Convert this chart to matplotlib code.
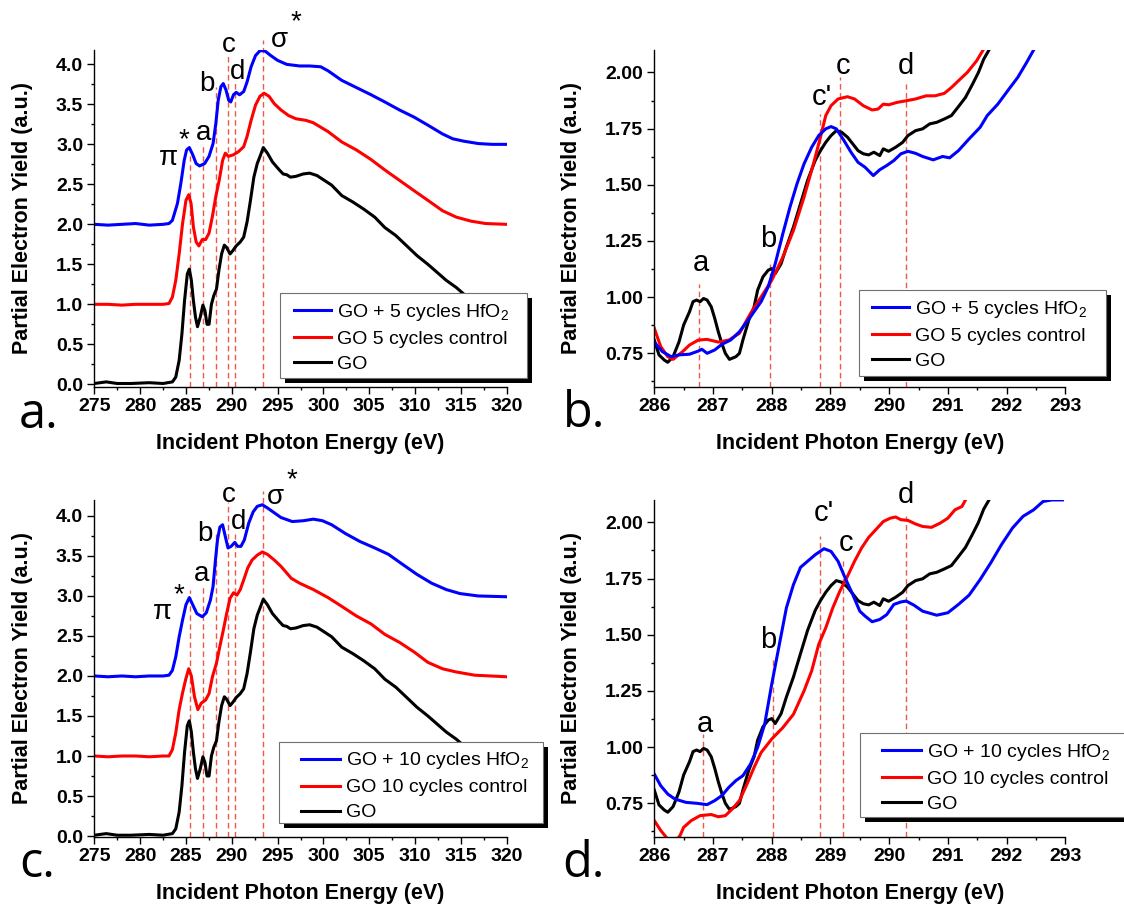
import matplotlib
matplotlib.use("Agg")
import matplotlib.pyplot as plt
from matplotlib.patches import Rectangle
import matplotlib.patheffects as pe

plt.rcParams['font.family'] = ['Liberation Sans', 'DejaVu Sans']
plt.rcParams['mathtext.fontset'] = 'custom'
plt.rcParams['mathtext.rm'] = 'Liberation Sans'
plt.rcParams['mathtext.it'] = 'Liberation Sans:italic'
plt.rcParams['mathtext.bf'] = 'Liberation Sans:bold'

# ---------------- data: wide scans (panels a, c) ----------------
go_wide_e = [275, 276.3, 277.5, 279, 281, 282.5, 283.52, 283.89, 284.26, 284.56, 284.85, 285.15, 285.37,
             285.59, 285.81, 286.04, 286.26, 286.56, 286.85, 287.07, 287.3, 287.52, 287.78, 288.04, 288.33,
             288.59, 288.89, 289.19, 289.44, 289.81, 290.11, 290.48, 290.93, 291.3, 291.67, 292.04, 292.41,
             292.78, 293.15, 293.44, 293.89, 294.44, 295.19, 295.6, 296.0, 296.4, 297.0, 297.8, 298.5, 299.3,
             300.1, 300.9, 302.0, 303.2, 304.4, 305.6, 306.7, 307.9, 309.1, 310.2, 311.4, 312.6, 313.4, 314.5,
             315.3, 316.5, 318.0, 320.0]
go_wide_y = [0.01, 0.03, 0.01, 0.01, 0.02, 0.01, 0.03, 0.09, 0.30, 0.63, 1.05, 1.38, 1.44,
             1.30, 1.05, 0.84, 0.72, 0.84, 0.99, 0.92, 0.75, 0.75, 1.0, 1.11, 1.19,
             1.42, 1.63, 1.74, 1.71, 1.63, 1.67, 1.73, 1.78, 1.84, 2.03, 2.30, 2.59,
             2.76, 2.87, 2.96, 2.89, 2.78, 2.68, 2.63, 2.62, 2.59, 2.60, 2.63, 2.64, 2.61,
             2.55, 2.49, 2.36, 2.28, 2.19, 2.09, 1.96, 1.86, 1.73, 1.61, 1.50, 1.38, 1.30, 1.21,
             1.13, 1.02, 0.90, 0.78]

hf5_wide_e = [275, 276.5, 278, 279.5, 281, 282.5, 283.15, 283.52, 284.07, 284.44, 284.81, 285.07, 285.37,
              285.74, 286.11, 286.48, 287.04, 287.52, 287.96, 288.26, 288.52, 288.81, 289.07, 289.37, 289.67,
              289.89, 290.19, 290.48, 290.85, 291.3, 291.67, 292.11, 292.59, 293.07, 293.59, 294.26, 295.0,
              296.0, 297.4, 298.5, 299.7, 300.5, 302.0, 303.6, 305.2, 306.7, 308.3, 309.9, 311.4, 313.0,
              314.1, 315.3, 316.9, 318.4, 320]
hf5_wide_y = [2.0, 1.99, 2.0, 2.01, 1.99, 2.0, 2.01, 2.05, 2.26, 2.51, 2.80, 2.93, 2.96,
              2.87, 2.76, 2.73, 2.76, 2.85, 3.01, 3.26, 3.55, 3.72, 3.76, 3.68, 3.55,
              3.53, 3.62, 3.65, 3.62, 3.66, 3.78, 3.97, 4.11, 4.17, 4.17, 4.11, 4.05,
              4.0, 3.98, 3.98, 3.97, 3.92, 3.80, 3.71, 3.62, 3.53, 3.43, 3.34, 3.24, 3.13,
              3.07, 3.04, 3.01, 3.0, 3.0]

ctl5_wide_e = [275, 276.5, 278, 279.5, 281, 282.5, 283.15, 283.52, 283.89, 284.26, 284.63, 285.0, 285.3,
               285.56, 285.81, 286.11, 286.41, 286.78, 287.15, 287.52, 287.89, 288.26, 288.63, 289.0, 289.3,
               289.63, 290.19, 290.74, 291.3, 291.67, 292.11, 292.59, 293.07, 293.52, 294.07, 294.63, 295.37,
               296.2, 297.0, 298.1, 298.9, 300.5, 302.0, 303.6, 305.2, 306.7, 308.3, 309.9, 311.4, 313.0,
               314.5, 316.1, 317.7, 320]
ctl5_wide_y = [1.0, 1.0, 0.99, 1.0, 1.0, 1.0, 1.01, 1.09, 1.30, 1.63, 2.01, 2.30, 2.37,
               2.26, 1.97, 1.78, 1.73, 1.81, 1.81, 1.89, 2.10, 2.35, 2.55, 2.80, 2.89,
               2.85, 2.87, 2.91, 2.97, 3.10, 3.30, 3.49, 3.60, 3.64, 3.60, 3.51, 3.43,
               3.36, 3.32, 3.30, 3.27, 3.16, 3.03, 2.93, 2.81, 2.68, 2.55, 2.42, 2.30, 2.17,
               2.09, 2.04, 2.01, 2.0]

hf10_wide_e = [275, 276.5, 278, 279.5, 281, 282.5, 283.15, 283.52, 283.89, 284.26, 284.63, 285.0, 285.37,
               285.74, 286.19, 286.78, 287.22, 287.67, 287.96, 288.22, 288.44, 288.7, 289.0, 289.3, 289.59,
               289.93, 290.33, 290.63, 291.0, 291.37, 291.85, 292.33, 292.78, 293.33, 293.89, 294.63, 295.37,
               296.6, 297.8, 298.9, 299.9, 300.9, 302.4, 304.0, 305.6, 307.1, 308.7, 310.2, 311.8, 313.4,
               314.9, 316.9, 320]
hf10_wide_y = [2.0, 1.99, 2.0, 1.99, 2.0, 2.0, 2.01, 2.07, 2.24, 2.49, 2.70, 2.89, 2.98,
               2.89, 2.78, 2.74, 2.79, 2.95, 3.12, 3.45, 3.70, 3.86, 3.89, 3.74, 3.60,
               3.62, 3.67, 3.62, 3.62, 3.70, 3.91, 4.05, 4.12, 4.14, 4.10, 4.04, 3.98,
               3.93, 3.94, 3.96, 3.94, 3.89, 3.78, 3.68, 3.60, 3.52, 3.39, 3.27, 3.16, 3.08,
               3.03, 3.0, 2.99]

ctl10_wide_e = [275, 276.5, 278, 279.5, 281, 282.5, 283.15, 283.52, 283.89, 284.26, 284.63, 285.0, 285.3,
                285.59, 285.93, 286.3, 286.67, 287.15, 287.52, 287.89, 288.33, 288.7, 289.07, 289.44, 289.81,
                290.19, 290.56, 290.93, 291.3, 291.74, 292.22, 292.78, 293.33, 293.89, 294.63, 295.37, 296.5,
                297.4, 298.9, 300.5, 302.0, 303.6, 305.2, 306.7, 308.3, 309.9, 311.4, 313.0, 314.5, 316.5, 320]
ctl10_wide_y = [1.0, 0.99, 1.0, 1.0, 0.99, 1.0, 1.0, 1.08, 1.29, 1.58, 1.79, 1.97, 2.09,
                2.0, 1.74, 1.58, 1.66, 1.70, 1.78, 1.99, 2.16, 2.37, 2.57, 2.78, 2.97,
                3.04, 3.01, 3.08, 3.20, 3.35, 3.45, 3.51, 3.55, 3.52, 3.45, 3.37, 3.22,
                3.16, 3.08, 2.98, 2.87, 2.75, 2.65, 2.52, 2.42, 2.30, 2.17, 2.09, 2.05, 2.01, 1.99]

# ---------------- data: narrow scans (panels b, d) ----------------
go_nar_e = [286.0, 286.08, 286.17, 286.23, 286.32, 286.42, 286.5, 286.6, 286.66, 286.72, 286.78, 286.84,
            286.9, 286.97, 287.03, 287.09, 287.15, 287.21, 287.28, 287.39, 287.45, 287.51, 287.61, 287.7,
            287.76, 287.85, 287.94, 288.0, 288.06, 288.16, 288.25, 288.37, 288.49, 288.61, 288.74, 288.83,
            288.92, 289.01, 289.1, 289.19, 289.29, 289.38, 289.47, 289.56, 289.65, 289.74, 289.84, 289.9,
            289.99, 290.11, 290.23, 290.32, 290.45, 290.57, 290.69, 290.81, 290.94, 291.06, 291.18, 291.3,
            291.42, 291.52, 291.61, 291.7, 291.8]
go_nar_y = [0.809, 0.743, 0.72, 0.71, 0.735, 0.80, 0.876, 0.935, 0.98, 0.987, 0.98, 0.994,
            0.987, 0.957, 0.905, 0.846, 0.794, 0.75, 0.723, 0.735, 0.75, 0.81, 0.898, 0.957,
            1.031, 1.09, 1.12, 1.127, 1.105, 1.149, 1.223, 1.312, 1.416, 1.519, 1.608, 1.652,
            1.689, 1.719, 1.741, 1.734, 1.712, 1.682, 1.652, 1.638, 1.633, 1.645, 1.63, 1.66,
            1.649, 1.667, 1.689, 1.719, 1.741, 1.749, 1.771, 1.778, 1.793, 1.808, 1.848, 1.889,
            1.948, 2.0, 2.059, 2.10, 2.16]

ctl5_nar_e = [286.0, 286.11, 286.23, 286.32, 286.48, 286.6, 286.75, 286.9, 287.09, 287.27, 287.45, 287.64,
              287.82, 288.0, 288.19, 288.37, 288.55, 288.71, 288.83, 288.92, 289.01, 289.13, 289.29, 289.41,
              289.56, 289.71, 289.81, 289.9, 289.99, 290.14, 290.29, 290.45, 290.63, 290.78, 290.94, 291.06,
              291.18, 291.33, 291.49, 291.6, 291.7]
ctl5_nar_y = [0.861, 0.78, 0.735, 0.723, 0.757, 0.787, 0.809, 0.812, 0.80, 0.809, 0.839, 0.928,
              1.001, 1.075, 1.179, 1.297, 1.445, 1.593, 1.712, 1.808, 1.852, 1.882, 1.892, 1.882,
              1.852, 1.833, 1.837, 1.859, 1.856, 1.867, 1.874, 1.882, 1.896, 1.896, 1.907, 1.933,
              1.963, 2.0, 2.052, 2.10, 2.15]

hf5_nar_e = [286.0, 286.14, 286.29, 286.42, 286.6, 286.75, 286.81, 286.9, 287.03, 287.15, 287.3, 287.45,
             287.64, 287.82, 287.94, 288.06, 288.19, 288.31, 288.43, 288.55, 288.68, 288.8, 288.92, 289.01,
             289.1, 289.23, 289.35, 289.47, 289.59, 289.73, 289.84, 289.96, 290.08, 290.2, 290.32, 290.45,
             290.57, 290.75, 290.91, 291.03, 291.18, 291.36, 291.55, 291.67, 291.85, 292.04, 292.19, 292.34,
             292.46, 292.55]
hf5_nar_y = [0.80, 0.757, 0.735, 0.743, 0.746, 0.76, 0.768, 0.75, 0.765, 0.79, 0.809, 0.846,
             0.913, 0.98, 1.046, 1.149, 1.283, 1.40, 1.504, 1.593, 1.667, 1.719, 1.749, 1.759,
             1.749, 1.697, 1.645, 1.60, 1.578, 1.541, 1.567, 1.586, 1.608, 1.638, 1.649, 1.64,
             1.626, 1.611, 1.626, 1.62, 1.652, 1.704, 1.756, 1.808, 1.859, 1.926, 1.978, 2.044,
             2.10, 2.14]

ctl10_nar_e = [286.0, 286.11, 286.2, 286.28, 286.36, 286.44, 286.5, 286.63, 286.78, 286.97, 287.09, 287.21,
               287.33, 287.45, 287.58, 287.7, 287.82, 288.0, 288.19, 288.37, 288.55, 288.68, 288.8, 288.92,
               289.04, 289.16, 289.29, 289.41, 289.53, 289.65, 289.77, 289.9, 290.02, 290.11, 290.2, 290.32,
               290.45, 290.57, 290.72, 290.87, 291.0, 291.12, 291.24, 291.3, 291.4]
ctl10_nar_y = [0.673, 0.629, 0.60, 0.575, 0.58, 0.607, 0.643, 0.673, 0.695, 0.70, 0.69, 0.695,
               0.725, 0.762, 0.836, 0.91, 0.976, 1.036, 1.087, 1.146, 1.25, 1.339, 1.457, 1.531,
               1.62, 1.694, 1.76, 1.827, 1.886, 1.933, 1.967, 2.004, 2.019, 2.024, 2.012, 2.009,
               1.993, 1.982, 1.978, 1.997, 2.019, 2.056, 2.071, 2.10, 2.15]

hf10_nar_e = [286.0, 286.11, 286.23, 286.35, 286.54, 286.72, 286.9, 287.03, 287.15, 287.27, 287.39, 287.51,
              287.64, 287.76, 287.88, 288.0, 288.13, 288.25, 288.37, 288.49, 288.61, 288.74, 288.89, 289.01,
              289.13, 289.25, 289.38, 289.5, 289.59, 289.71, 289.84, 289.96, 290.08, 290.2, 290.29, 290.42,
              290.57, 290.81, 291.0, 291.18, 291.36, 291.55, 291.73, 291.91, 292.1, 292.28, 292.46, 292.62,
              292.77, 292.95]
hf10_nar_y = [0.88, 0.828, 0.791, 0.769, 0.754, 0.75, 0.744, 0.762, 0.784, 0.821, 0.851, 0.873,
              0.925, 0.999, 1.102, 1.28, 1.457, 1.62, 1.723, 1.80, 1.827, 1.856, 1.883, 1.871,
              1.827, 1.753, 1.679, 1.605, 1.583, 1.558, 1.568, 1.59, 1.635, 1.646, 1.65, 1.632,
              1.605, 1.587, 1.598, 1.635, 1.676, 1.746, 1.82, 1.90, 1.975, 2.027, 2.056, 2.093,
              2.10, 2.10]

# ---------------- annotations ----------------
wide_lines_x = [285.47, 286.87, 288.28, 289.6, 290.4, 293.45]
wide_a_tops = [2.93, 3.01, 3.72, 4.12, 3.80, 4.31]
wide_c_tops = [3.08, 3.12, 3.78, 4.18, 3.78, 4.31]
lines_b_x = [286.77, 287.97, 288.82, 289.17, 290.29]
lines_b_tops = [1.06, 1.16, 1.815, 1.98, 1.95]
lines_d_x = [286.83, 288.02, 288.82, 289.22, 290.29]
lines_d_tops = [1.058, 1.39, 1.938, 1.827, 2.027]

wide_labels = ['π', '*', 'a', 'b', 'c', 'd', 'σ', '*']
labels_a_pos = [(283.07, 2.83), (284.74, 3.05), (286.93, 3.14), (287.33, 3.76), (289.63, 4.24),
                (290.63, 3.90), (295.2, 4.30), (297.0, 4.53)]
labels_c_pos = [(282.41, 2.80), (284.19, 3.01), (286.67, 3.28), (287.04, 3.78), (289.63, 4.26),
                (290.74, 3.93), (294.8, 4.24), (296.6, 4.45)]
nar_labels = ['a', 'b', "c'", 'c', 'd']
labels_b_pos = [(286.79, 1.152), (287.94, 1.26), (288.86, 1.89), (289.21, 2.03), (290.29, 2.03)]
labels_d_pos = [(286.87, 1.105), (287.94, 1.475), (288.89, 2.04), (289.26, 1.91), (290.29, 2.12)]

wide_xticks = [275, 280, 285, 290, 295, 300, 305, 310, 315, 320]
wide_xticklabels = ['275', '280', '285', '290', '295', '300', '305', '310', '315', '320']
wide_yticks = [0.0, 0.5, 1.0, 1.5, 2.0, 2.5, 3.0, 3.5, 4.0]
wide_yticklabels = ['0.0', '0.5', '1.0', '1.5', '2.0', '2.5', '3.0', '3.5', '4.0']
nar_xticks = [286, 287, 288, 289, 290, 291, 292, 293]
nar_xticklabels = ['286', '287', '288', '289', '290', '291', '292', '293']
nar_yticks = [0.75, 1.00, 1.25, 1.50, 1.75, 2.00]
nar_yticklabels = ['0.75', '1.00', '1.25', '1.50', '1.75', '2.00']

legend_5 = ['GO + 5 cycles HfO$_2$', 'GO 5 cycles control', 'GO']
legend_10 = ['GO + 10 cycles HfO$_2$', 'GO 10 cycles control', 'GO']

BLUE, RED, BLACK = '#0000ff', '#ff0000', '#000000'
DASH = '#ee5a4a'
LW = 2.2

fig = plt.figure(figsize=(11.24, 9.07), dpi=100)
ax_a = fig.add_axes([0.0839, 0.5733, 0.3669, 0.3716])
ax_b = fig.add_axes([0.5821, 0.5733, 0.3657, 0.3716])
ax_c = fig.add_axes([0.0839, 0.0772, 0.3669, 0.3716])
ax_d = fig.add_axes([0.5821, 0.0772, 0.3657, 0.3716])


def style(ax, xt, xtl, xminor, yt, ytl, yminor, xlim, ylim, ylab_x):
    ax.set_xlim(xlim)
    ax.set_ylim(ylim)
    ax.set_xticks(xt)
    ax.set_xticklabels(xtl, fontweight='bold', fontsize=14)
    ax.set_yticks(yt)
    ax.set_yticklabels(ytl, fontweight='bold', fontsize=14)
    ax.set_xticks(xminor, minor=True)
    ax.set_yticks(yminor, minor=True)
    for s in ['top', 'right']:
        ax.spines[s].set_visible(False)
    for s in ['left', 'bottom']:
        ax.spines[s].set_linewidth(1.0)
    ax.tick_params(which='major', direction='out', length=5, width=1.0, pad=3)
    ax.tick_params(which='minor', direction='out', length=2.5, width=1.0)
    ax.set_xlabel('Incident Photon Energy (eV)', fontsize=15.5, fontweight='bold', va='center')
    ax.xaxis.set_label_coords(0.5, -0.169)
    ax.set_ylabel('Partial Electron Yield (a.u.)', fontsize=15.5, fontweight='bold', va='center')
    ax.yaxis.set_label_coords(ylab_x, 0.5)


def legend_box(ax, handles, labels, anchor, frame, hl):
    leg = ax.legend(handles, labels, loc='upper left', bbox_to_anchor=anchor,
                    bbox_transform=ax.transAxes, frameon=False, borderpad=0, borderaxespad=0,
                    handlelength=hl, handletextpad=0.3, labelspacing=0.38, fontsize=14)
    leg.set_zorder(7)
    r = Rectangle((frame[0], frame[1]), frame[2] - frame[0], frame[3] - frame[1],
                  transform=ax.transAxes, facecolor='white', edgecolor='#707070', linewidth=0.8,
                  clip_on=False, zorder=6)
    r.set_path_effects([pe.SimplePatchShadow(offset=(3.6, -3.6), shadow_rgbFace='black', alpha=1.0),
                        pe.Normal()])
    ax.add_patch(r)


wide_minor_x = [277.5 + 5 * i for i in range(9)]
wide_minor_y = [0.25 + 0.5 * i for i in range(8)]
nar_minor_x = [286.5 + i for i in range(7)]
nar_minor_y = [0.625 + 0.25 * i for i in range(6)]

# ---- panel a ----
ax = ax_a
ax.vlines(wide_lines_x, -0.034, wide_a_tops, colors=DASH, linestyles=(0, (4, 2.5)), lw=1.0,
          clip_on=False, zorder=1)
lk, = ax.plot(go_wide_e, go_wide_y, color=BLACK, lw=LW, zorder=2)
lr, = ax.plot(ctl5_wide_e, ctl5_wide_y, color=RED, lw=LW, zorder=2)
lb, = ax.plot(hf5_wide_e, hf5_wide_y, color=BLUE, lw=LW, zorder=2)
style(ax, wide_xticks, wide_xticklabels, wide_minor_x, wide_yticks, wide_yticklabels, wide_minor_y,
      (275, 320), (-0.034, 4.18), -0.173)
for t, (x, y) in zip(wide_labels, labels_a_pos):
    ax.text(x, y, t, fontsize=20, ha='center', va='center', clip_on=False)
legend_box(ax, [lb, lr, lk], legend_5, (0.484, 0.253), (0.450, 0.027, 1.049, 0.279), 1.9)

# ---- panel b ----
ax = ax_b
ax.vlines(lines_b_x, 0.6, lines_b_tops, colors=DASH, linestyles=(0, (4, 2.5)), lw=1.0,
          clip_on=False, zorder=1)
lk, = ax.plot(go_nar_e, go_nar_y, color=BLACK, lw=LW, zorder=2)
lr, = ax.plot(ctl5_nar_e, ctl5_nar_y, color=RED, lw=LW, zorder=2)
lb, = ax.plot(hf5_nar_e, hf5_nar_y, color=BLUE, lw=LW, zorder=2)
style(ax, nar_xticks, nar_xticklabels, nar_minor_x, nar_yticks, nar_yticklabels, nar_minor_y,
      (286, 293), (0.6, 2.1), -0.201)
for t, (x, y) in zip(nar_labels, labels_b_pos):
    ax.text(x, y, t, fontsize=21, ha='center', va='center', clip_on=False)
legend_box(ax, [lb, lr, lk], legend_5, (0.530, 0.262), (0.499, 0.033, 1.098, 0.288), 1.9)

# ---- panel c ----
ax = ax_c
ax.vlines(wide_lines_x, -0.012, wide_c_tops, colors=DASH, linestyles=(0, (4, 2.5)), lw=1.0,
          clip_on=False, zorder=1)
lk, = ax.plot(go_wide_e, go_wide_y, color=BLACK, lw=LW, zorder=2)
lr, = ax.plot(ctl10_wide_e, ctl10_wide_y, color=RED, lw=LW, zorder=2)
lb, = ax.plot(hf10_wide_e, hf10_wide_y, color=BLUE, lw=LW, zorder=2)
style(ax, wide_xticks, wide_xticklabels, wide_minor_x, wide_yticks, wide_yticklabels, wide_minor_y,
      (275, 320), (-0.012, 4.2), -0.173)
for t, (x, y) in zip(wide_labels, labels_c_pos):
    ax.text(x, y, t, fontsize=20, ha='center', va='center', clip_on=False)
legend_box(ax, [lb, lr, lk], legend_10, (0.501, 0.257), (0.448, 0.042, 1.088, 0.283), 2.0)

# ---- panel d ----
ax = ax_d
ax.vlines(lines_d_x, 0.6, lines_d_tops, colors=DASH, linestyles=(0, (4, 2.5)), lw=1.0,
          clip_on=False, zorder=1)
lk, = ax.plot(go_nar_e, go_nar_y, color=BLACK, lw=LW, zorder=2)
lr, = ax.plot(ctl10_nar_e, ctl10_nar_y, color=RED, lw=LW, zorder=2)
lb, = ax.plot(hf10_nar_e, hf10_nar_y, color=BLUE, lw=LW, zorder=2)
style(ax, nar_xticks, nar_xticklabels, nar_minor_x, nar_yticks, nar_yticklabels, nar_minor_y,
      (286, 293), (0.6, 2.1), -0.201)
for t, (x, y) in zip(nar_labels, labels_d_pos):
    ax.text(x, y, t, fontsize=21, ha='center', va='center', clip_on=False)
legend_box(ax, [lb, lr, lk], legend_10, (0.555, 0.282), (0.501, 0.060, 1.35, 0.308), 2.0)

# ---- panel letters ----
for t, (x, y) in zip(['a.', 'b.', 'c.', 'd.'], [(19, 428), (563, 427), (19, 877), (562, 877)]):
    fig.text(x / 1124, 1 - y / 907, t, fontsize=35, family='Open Sans', ha='left', va='baseline')

fig.savefig('out.png', dpi=100)
